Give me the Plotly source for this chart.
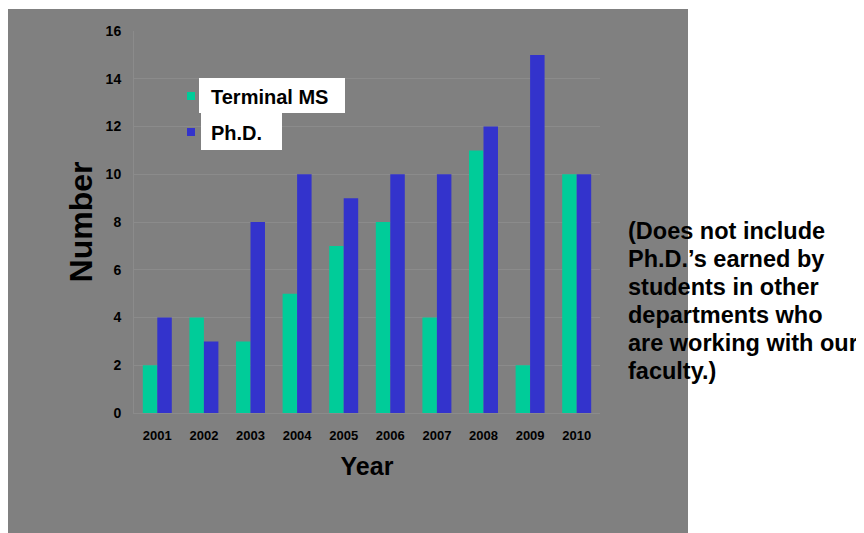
import plotly.graph_objects as go

years = ["2001", "2002", "2003", "2004", "2005", "2006", "2007", "2008", "2009", "2010"]
terminal_ms = [2, 4, 3, 5, 7, 8, 4, 11, 2, 10]
phd = [4, 3, 8, 10, 9, 10, 10, 12, 15, 10]
series_names = ["Terminal MS", "Ph.D."]
series_colors = ["#00CC99", "#3333CC"]
y_ticks = [0, 2, 4, 6, 8, 10, 12, 14, 16]
note_lines = [
    "(Does not include",
    "Ph.D.\u2019s earned by",
    "students in other",
    "departments who",
    "are working with our",
    "faculty.)",
]

OFF = 8  # the page body adds an 8px margin around the figure
W, H = 864 - OFF, 533 - OFF
# plot area in screen pixels
SL, SR, ST, SB = 134, 600, 31, 413
L, R, T, B = SL - OFF, SR - OFF, ST - OFF, SB - OFF


def px_x(p):  # screen pixel -> paper coordinate
    return (p - SL) / (SR - SL)


def px_y(p):
    return (SB - p) / (SB - ST)


FONT = "Liberation Sans, Arial, sans-serif"
BG = "#808080"
GRID = "#8b8b8b"

fig = go.Figure()
for name, vals, col in zip(series_names, [terminal_ms, phd], series_colors):
    fig.add_trace(go.Bar(x=years, y=vals, name=name, marker=dict(color=col, line=dict(width=0)),
                         showlegend=False, legendgroup=name))

# legend entries (small square markers like the original)
for i, (name, col) in enumerate(zip(series_names, series_colors)):
    fig.add_trace(go.Scatter(x=[None], y=[None], mode="markers", name=name, legendgroup=name,
                             marker=dict(symbol="square", size=8, color=col),
                             legend="legend" if i == 0 else "legend2"))

shapes = [
    dict(type="rect", xref="paper", yref="paper", layer="below",
         x0=px_x(OFF), x1=px_x(688), y0=px_y(540), y1=px_y(9),
         fillcolor=BG, line=dict(width=0)),
    dict(type="rect", xref="paper", yref="paper", layer="above",
         x0=px_x(199), x1=px_x(345), y0=px_y(113), y1=px_y(78),
         fillcolor="white", line=dict(width=0)),
    dict(type="rect", xref="paper", yref="paper", layer="above",
         x0=px_x(201), x1=px_x(282), y0=px_y(150), y1=px_y(113),
         fillcolor="white", line=dict(width=0)),
]

annotations = []
for i, line in enumerate(note_lines):
    annotations.append(dict(
        text=line, xref="paper", yref="paper", x=px_x(626), y=px_y(231.5 + 27.8 * i),
        xanchor="left", yanchor="middle", showarrow=False,
        font=dict(family=FONT, size=23.5, color="black", weight="bold")))

legend_common = dict(bgcolor="rgba(0,0,0,0)", borderwidth=0, xanchor="left", yanchor="middle",
                     font=dict(family=FONT, size=20, color="black", weight="bold"))

fig.update_layout(
    width=W, height=H,
    margin=dict(l=L, r=W - R, t=T, b=H - B, pad=0),
    paper_bgcolor="white",
    plot_bgcolor="rgba(0,0,0,0)",
    barmode="group", bargap=0.378, bargroupgap=0,
    shapes=shapes,
    annotations=annotations,
    legend=dict(x=px_x(171), y=px_y(96), **legend_common),
    legend2=dict(x=px_x(171), y=px_y(132), **legend_common),
    xaxis=dict(
        type="category", showgrid=False, zeroline=False,
        showline=True, linecolor=GRID, linewidth=1,
        ticks="", ticklabelstandoff=10,
        tickfont=dict(family=FONT, size=13, color="black", weight="bold"),
        title=dict(text="Year", standoff=15,
                   font=dict(family=FONT, size=25, color="black", weight="bold")),
    ),
    yaxis=dict(
        range=[0, 16], tickvals=y_ticks, showgrid=True, gridcolor=GRID, gridwidth=1,
        zeroline=False, showline=True, linecolor=GRID, linewidth=1,
        ticks="", ticklabelstandoff=9,
        tickfont=dict(family=FONT, size=14, color="black", weight="bold"),
        title=dict(text="Number", standoff=3,
                   font=dict(family=FONT, size=32, color="black", weight="bold")),
    ),
)

fig.write_html("out.html")
